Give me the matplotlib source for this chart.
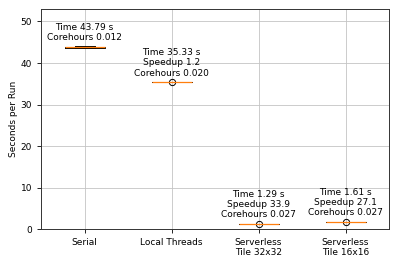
import matplotlib
matplotlib.use("Agg")
import matplotlib.pyplot as plt
import numpy as np

labels = ["Serial", "Local Threads", "Serverless\nTile 32x32", "Serverless\nTile 16x16"]

serial_runs = [43.60, 43.66, 43.72, 43.79, 43.85, 43.90, 43.98]
threads_runs = [35.33, 35.33, 35.33, 35.33, 35.33, 35.38]
tile32_runs = [1.29, 1.29, 1.29, 1.29, 1.29, 1.33]
tile16_runs = [1.61, 1.61, 1.61, 1.61, 1.61, 1.65]

mean_times = [43.79, 35.33, 1.29, 1.61]
speedups = [None, 1.2, 33.9, 27.1]
corehours = [0.012, 0.020, 0.027, 0.027]

runs = [serial_runs, threads_runs, tile32_runs, tile16_runs]

plt.rcParams['font.size'] = 6.5

fig, ax = plt.subplots(figsize=(3.99, 2.66), dpi=100)

ax.boxplot(runs, widths=0.46, tick_labels=labels,
           boxprops=dict(linewidth=0.7),
           whiskerprops=dict(linewidth=0.7),
           capprops=dict(linewidth=0.7),
           medianprops=dict(linewidth=0.9),
           flierprops=dict(markersize=4.5, markeredgewidth=0.7))
ax.grid(True, color="#c4c4c4", linewidth=0.6)
ax.set_axisbelow(True)
ax.set_ylim(0, 53)
ax.set_xlim(0.5, 4.5)
ax.set_ylabel("Seconds per Run", fontsize=6.5, labelpad=1.5)
ax.tick_params(labelsize=6.5, width=0.6, length=3)
for s in ax.spines.values():
    s.set_linewidth(0.7)
    s.set_color("#333333")

for i in range(4):
    lines = ["Time %.2f s" % mean_times[i]]
    if speedups[i] is not None:
        lines.append("Speedup %.1f" % speedups[i])
    lines.append("Corehours %.3f" % corehours[i])
    ax.annotate("\n".join(lines), xy=(i + 1, np.median(runs[i])), xytext=(0, 3.5),
                textcoords="offset points", ha="center", va="bottom",
                fontsize=6.5, linespacing=1.15)

fig.subplots_adjust(left=0.103, right=0.975, top=0.966, bottom=0.139)
plt.savefig("out.png")
plt.close()
